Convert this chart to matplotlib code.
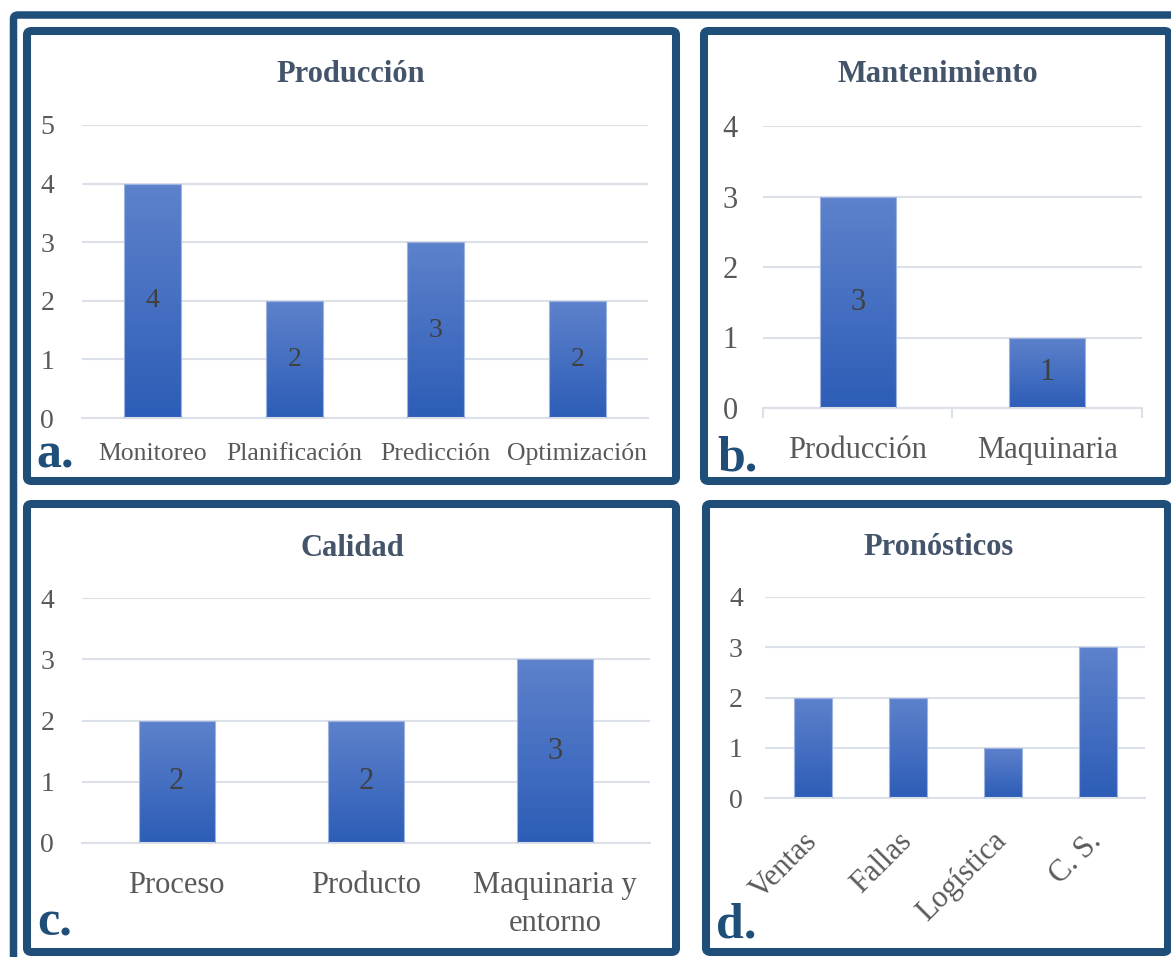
import numpy as np
import matplotlib
matplotlib.use("Agg")
import matplotlib.pyplot as plt
from matplotlib.colors import LinearSegmentedColormap
from matplotlib.patches import FancyBboxPatch

# data
prod_labels = ["Monitoreo", "Planificación", "Predicción", "Optimización"]
prod_values = [4, 2, 3, 2]
mant_labels = ["Producción", "Maquinaria"]
mant_values = [3, 1]
cal_labels = ["Proceso", "Producto", "Maquinaria y\nentorno"]
cal_values = [2, 2, 3]
pron_labels = ["Ventas", "Fallas", "Logística", "C. S."]
pron_values = [2, 2, 1, 3]

W, H = 1171, 957
FRAME = "#1F4E79"
TEXT = "#595959"
TITLE = "#44546A"
GRID = "#DCE0E8"
SERIF = "Liberation Serif"

plt.rcParams["font.family"] = SERIF

bar_cmap = LinearSegmentedColormap.from_list("bar", ["#2D5DB7", "#5E82CC"])


def fx(x):
    return x / W


def fy(y):
    return 1 - y / H


def axes_at(fig, left, right, top, bottom):
    return fig.add_axes([fx(left), fy(bottom), (right - left) / W, (bottom - top) / H])


def frame(fig, l, r, t, b, lw):
    fig.patches.append(FancyBboxPatch((fx(l), fy(b)), (r - l) / W, (b - t) / H,
                                      boxstyle="round,pad=0,rounding_size=0.004",
                                      transform=fig.transFigure, fill=False,
                                      edgecolor=FRAME, linewidth=lw))


def gradient_bars(ax, values, width=0.4):
    x = np.arange(len(values))
    bars = ax.bar(x, values, width, color="none", edgecolor="#9DB4E0",
                  linewidth=0.8, zorder=3)
    grad = np.linspace(0, 1, 256).reshape(-1, 1)
    for b in bars:
        x0, y0 = b.get_x(), b.get_y()
        im = ax.imshow(grad, extent=(x0, x0 + b.get_width(), y0, y0 + b.get_height()),
                       cmap=bar_cmap, aspect="auto", origin="lower", zorder=2)
        im.set_clip_path(b)
    return bars


def style_axes(ax, labels, ymax, ysize, xsize, ypad, xpad):
    n = len(labels)
    ax.set_xlim(-0.5, n - 0.5)
    ax.set_ylim(0, ymax)
    ax.set_yticks(range(ymax + 1))
    ax.set_xticks(range(n))
    ax.set_xticklabels(labels, linespacing=1.4)
    ax.grid(axis="y", color=GRID, linewidth=1.5, zorder=0)
    ax.set_axisbelow(True)
    for side in ["left", "right", "top"]:
        ax.spines[side].set_visible(False)
    ax.spines["bottom"].set_color(GRID)
    ax.spines["bottom"].set_linewidth(1.5)
    ax.tick_params(axis="y", length=0, labelsize=ysize, labelcolor=TEXT, pad=ypad)
    ax.tick_params(axis="x", length=0, labelsize=xsize, labelcolor=TEXT, pad=xpad)
    ax.patch.set_alpha(0)


def value_labels(ax, bars, size):
    for b in bars:
        h = b.get_height()
        ax.text(b.get_x() + b.get_width() / 2, h / 2, f"{h:g}", ha="center",
                va="center", fontsize=size, color="#404040", zorder=4)


fig = plt.figure(figsize=(W / 100, H / 100), dpi=100)

# outer frame (runs off the right and bottom edges) and the four panel frames
frame(fig, 13.5, 1400, 15, 1200, 5.4)
panels = [(27, 676, 31, 481), (704, 1169, 31, 481), (27, 676, 504, 952), (706, 1168, 504, 952)]
for l, r, t, b in panels:
    frame(fig, l, r, t, b, 5.8)

# a. Producción
ax_a = axes_at(fig, 82, 648, 125, 418)
bars = gradient_bars(ax_a, prod_values)
style_axes(ax_a, prod_labels, 5, 20, 18.5, 20, 18)
value_labels(ax_a, bars, 20)

# b. Mantenimiento
ax_b = axes_at(fig, 763, 1142, 126, 408)
bars = gradient_bars(ax_b, mant_values)
style_axes(ax_b, mant_labels, 4, 22, 22, 18, 20)
ax_b.set_xticks([-0.5, 0.5, 1.5], minor=True)
ax_b.tick_params(axis="x", which="minor", length=7, width=1.5, color=GRID)
value_labels(ax_b, bars, 22)

# c. Calidad
ax_c = axes_at(fig, 82, 650, 598, 843)
bars = gradient_bars(ax_c, cal_values)
style_axes(ax_c, cal_labels, 4, 20, 22, 20, 20)
value_labels(ax_c, bars, 22)

# d. Pronósticos
ax_d = axes_at(fig, 765, 1145, 597, 798)
bars = gradient_bars(ax_d, pron_values)
style_axes(ax_d, pron_labels, 4, 20, 22, 16, 28)
for lab in ax_d.get_xticklabels():
    lab.set_rotation(45)
    lab.set_ha("right")
    lab.set_va("center")
    lab.set_rotation_mode("anchor")

titles = [("Producción", 351, 82), ("Mantenimiento", 938, 82),
          ("Calidad", 352, 556), ("Pronósticos", 939, 555)]
for text, x, y in titles:
    fig.text(fx(x), fy(y), text, ha="center", va="baseline", fontsize=22,
             fontweight="bold", color=TITLE)

tags = [("a.", 36, 468), ("b.", 717, 470), ("c.", 37, 935), ("d.", 716, 937)]
for text, x, y in tags:
    fig.text(fx(x), fy(y), text, ha="left", va="baseline", fontsize=36,
             fontweight="bold", color=FRAME)

fig.savefig("out.png", dpi=100)
